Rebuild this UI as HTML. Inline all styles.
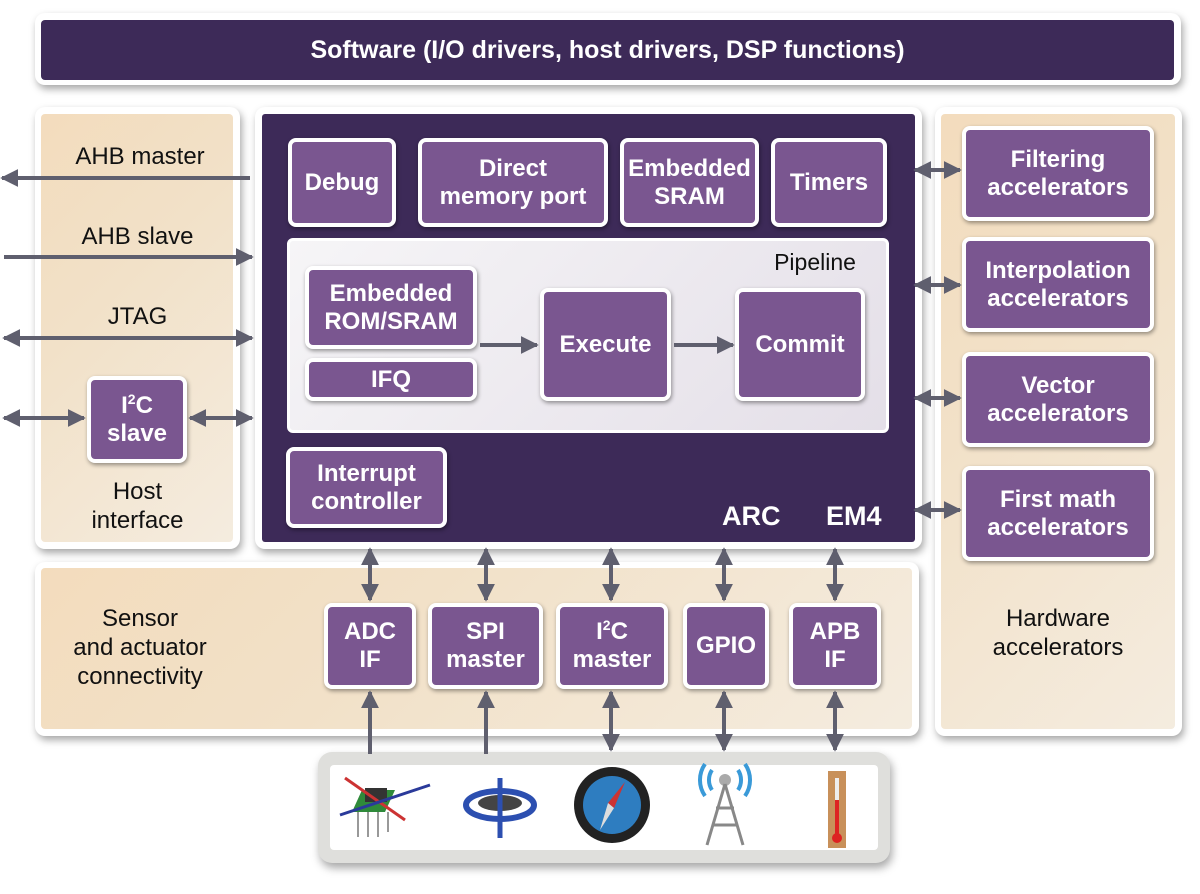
<!DOCTYPE html>
<html><head><meta charset="utf-8"><style>
body{margin:0;width:1200px;height:894px;background:#fff;position:relative;overflow:hidden;font-family:"Liberation Sans",sans-serif}
.a{position:absolute;box-sizing:border-box}
.frame{background:#fff;border-radius:10px;box-shadow:2px 4px 8px rgba(0,0,0,.35)}
.tan{background:linear-gradient(135deg,#f3dcbd 0%,#f2e1c8 40%,#f4ecdf 100%);border-radius:4px}
.pb{background:#7a5690;border:4px solid #fff;border-radius:8px;color:#fff;font-weight:bold;font-size:24px;display:flex;align-items:center;justify-content:center;text-align:center;line-height:28px;box-shadow:1px 2px 4px rgba(0,0,0,.4)}
.t{position:absolute;font-size:24px;color:#111;text-align:center;line-height:29px}
sup{font-size:14px;line-height:0;vertical-align:9px}
</style></head><body>
<div class="a frame" style="left:35px;top:13px;width:1146px;height:72px"></div>
<div class="a" style="left:41px;top:20px;width:1133px;height:60px;background:#3d2a58;border-radius:4px;color:#fff;font-weight:bold;font-size:25px;display:flex;align-items:center;justify-content:center">Software (I/O drivers, host drivers, DSP functions)</div>

<div class="a frame" style="left:35px;top:107px;width:205px;height:442px"></div>
<div class="a tan" style="left:41px;top:114px;width:192px;height:428px"></div>
<div class="a frame" style="left:935px;top:107px;width:247px;height:629px"></div>
<div class="a tan" style="left:941px;top:114px;width:234px;height:615px"></div>
<div class="a frame" style="left:35px;top:562px;width:884px;height:174px"></div>
<div class="a tan" style="left:41px;top:568px;width:871px;height:161px"></div>

<div class="a frame" style="left:255px;top:107px;width:667px;height:442px"></div>
<div class="a" style="left:262px;top:114px;width:653px;height:428px;background:#3d2a58;border-radius:3px"></div>

<div class="a pb" style="left:288px;top:138px;width:108px;height:89px">Debug</div>
<div class="a pb" style="left:418px;top:138px;width:190px;height:89px"><span>Direct<br>memory port</span></div>
<div class="a pb" style="left:620px;top:138px;width:139px;height:89px"><span>Embedded<br>SRAM</span></div>
<div class="a pb" style="left:771px;top:138px;width:116px;height:89px">Timers</div>

<div class="a" style="left:287px;top:238px;width:602px;height:195px;background:linear-gradient(135deg,#f6f5f7,#e4dfe8);border-radius:6px;border:3px solid #fff"></div>
<div class="t" style="left:760px;top:248px;width:110px;font-size:23px">Pipeline</div>
<div class="a pb" style="left:305px;top:266px;width:172px;height:83px"><span>Embedded<br>ROM/SRAM</span></div>
<div class="a pb" style="left:305px;top:358px;width:172px;height:43px">IFQ</div>
<div class="a pb" style="left:540px;top:288px;width:131px;height:113px">Execute</div>
<div class="a pb" style="left:735px;top:288px;width:130px;height:113px">Commit</div>
<div class="a pb" style="left:286px;top:447px;width:161px;height:81px"><span>Interrupt<br>controller</span></div>
<div class="a" style="left:722px;top:501px;color:#fff;font-weight:bold;font-size:27px">ARC</div>
<div class="a" style="left:826px;top:501px;color:#fff;font-weight:bold;font-size:27px">EM4</div>

<div class="a pb" style="left:962px;top:126px;width:192px;height:95px"><span>Filtering<br>accelerators</span></div>
<div class="a pb" style="left:962px;top:237px;width:192px;height:95px"><span>Interpolation<br>accelerators</span></div>
<div class="a pb" style="left:962px;top:352px;width:192px;height:95px"><span>Vector<br>accelerators</span></div>
<div class="a pb" style="left:962px;top:466px;width:192px;height:95px"><span>First math<br>accelerators</span></div>
<div class="t" style="left:958px;top:604px;width:200px">Hardware<br>accelerators</div>

<div class="t" style="left:50px;top:142px;width:180px">AHB master</div>
<div class="t" style="left:50px;top:222px;width:175px">AHB slave</div>
<div class="t" style="left:50px;top:302px;width:175px">JTAG</div>
<div class="a pb" style="left:87px;top:376px;width:100px;height:87px"><span>I<sup>2</sup>C<br>slave</span></div>
<div class="t" style="left:60px;top:477px;width:155px">Host<br>interface</div>
<div class="t" style="left:40px;top:604px;width:200px">Sensor<br>and actuator<br>connectivity</div>

<div class="a pb" style="left:324px;top:603px;width:92px;height:86px"><span>ADC<br>IF</span></div>
<div class="a pb" style="left:428px;top:603px;width:115px;height:86px"><span>SPI<br>master</span></div>
<div class="a pb" style="left:556px;top:603px;width:112px;height:86px"><span>I<sup>2</sup>C<br>master</span></div>
<div class="a pb" style="left:683px;top:603px;width:86px;height:86px">GPIO</div>
<div class="a pb" style="left:789px;top:603px;width:92px;height:86px"><span>APB<br>IF</span></div>

<div class="a" style="left:318px;top:752px;width:572px;height:111px;background:#dfdfdc;border-radius:14px;box-shadow:2px 5px 9px rgba(0,0,0,.35)"></div>
<div class="a" style="left:330px;top:765px;width:548px;height:85px;background:#fff;border-radius:4px"></div>

<svg class="a" style="left:0;top:0" width="1200" height="894">
<defs><marker id="h" viewBox="0 0 10 10" refX="9" refY="5" markerWidth="4.5" markerHeight="4.5" orient="auto-start-reverse"><path d="M0,0L10,5L0,10z" fill="#5f5f6e"/></marker></defs>
<g stroke="#5f5f6e" stroke-width="4" fill="none">
<line x1="250" y1="178" x2="2" y2="178" marker-end="url(#h)"/>
<line x1="4" y1="257" x2="252" y2="257" marker-end="url(#h)"/>
<line x1="4" y1="338" x2="252" y2="338" marker-start="url(#h)" marker-end="url(#h)"/>
<line x1="4" y1="418" x2="84" y2="418" marker-start="url(#h)" marker-end="url(#h)"/>
<line x1="190" y1="418" x2="252" y2="418" marker-start="url(#h)" marker-end="url(#h)"/>
<line x1="480" y1="345" x2="537" y2="345" marker-end="url(#h)"/>
<line x1="674" y1="345" x2="733" y2="345" marker-end="url(#h)"/>
<line x1="915" y1="170" x2="960" y2="170" marker-start="url(#h)" marker-end="url(#h)"/>
<line x1="915" y1="285" x2="960" y2="285" marker-start="url(#h)" marker-end="url(#h)"/>
<line x1="915" y1="398" x2="960" y2="398" marker-start="url(#h)" marker-end="url(#h)"/>
<line x1="915" y1="510" x2="960" y2="510" marker-start="url(#h)" marker-end="url(#h)"/>
<line x1="370" y1="549" x2="370" y2="600" marker-start="url(#h)" marker-end="url(#h)"/>
<line x1="486" y1="549" x2="486" y2="600" marker-start="url(#h)" marker-end="url(#h)"/>
<line x1="611" y1="549" x2="611" y2="600" marker-start="url(#h)" marker-end="url(#h)"/>
<line x1="724" y1="549" x2="724" y2="600" marker-start="url(#h)" marker-end="url(#h)"/>
<line x1="835" y1="549" x2="835" y2="600" marker-start="url(#h)" marker-end="url(#h)"/>
<line x1="370" y1="754" x2="370" y2="692" marker-end="url(#h)"/>
<line x1="486" y1="754" x2="486" y2="692" marker-end="url(#h)"/>
<line x1="611" y1="750" x2="611" y2="692" marker-start="url(#h)" marker-end="url(#h)"/>
<line x1="724" y1="750" x2="724" y2="692" marker-start="url(#h)" marker-end="url(#h)"/>
<line x1="835" y1="750" x2="835" y2="692" marker-start="url(#h)" marker-end="url(#h)"/>
</g>
<g>
<path d="M362 790L395 790L385 812L352 812z" fill="#2f8a3a"/>
<rect x="365" y="788" width="22" height="14" fill="#333"/>
<path d="M358 812v25M368 812v25M378 812v25M388 812v20" stroke="#999" stroke-width="2"/>
<line x1="345" y1="778" x2="405" y2="820" stroke="#c33" stroke-width="3"/>
<line x1="340" y1="815" x2="430" y2="785" stroke="#2a3a9a" stroke-width="3"/>
<ellipse cx="500" cy="805" rx="34" ry="14" fill="none" stroke="#2c4fb0" stroke-width="6"/>
<ellipse cx="500" cy="803" rx="22" ry="8" fill="#444"/>
<line x1="500" y1="778" x2="500" y2="838" stroke="#2c4fb0" stroke-width="5"/>
<circle cx="612" cy="805" r="38" fill="#222"/>
<circle cx="612" cy="805" r="29" fill="#2e7dc0"/>
<path d="M625 782L614 808L608 803z" fill="#c33"/><path d="M600 830L608 803L614 808z" fill="#ddd"/>
<path d="M712 790a18 18 0 0 1 0-20M738 790a18 18 0 0 0 0-20M705 796a28 28 0 0 1 0-32M745 796a28 28 0 0 0 0-32" stroke="#3a9ad8" stroke-width="4" fill="none"/>
<circle cx="725" cy="780" r="6" fill="#aaa"/>
<path d="M725 784L707 845M725 784L743 845M712 825L738 825M716 808L734 808" stroke="#888" stroke-width="3" fill="none"/>
<rect x="828" y="771" width="18" height="77" fill="#c8905a"/>
<rect x="835" y="778" width="4" height="55" fill="#eee"/><rect x="835" y="800" width="4" height="35" fill="#d22"/>
<circle cx="837" cy="838" r="5" fill="#d22"/>
</g>
</svg>
</body></html>
